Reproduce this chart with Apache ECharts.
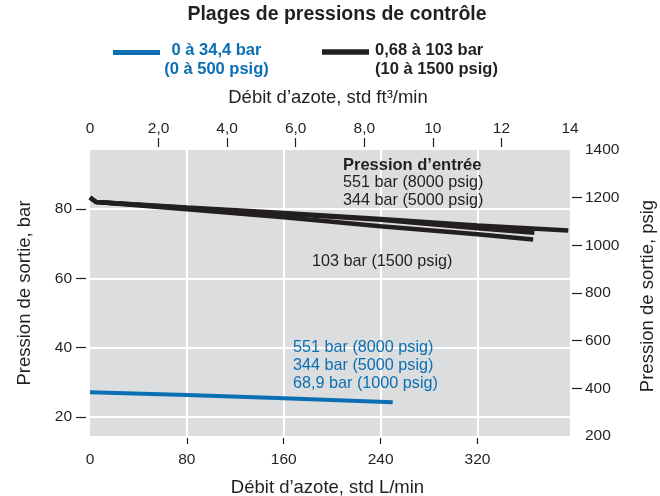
<!DOCTYPE html>
<html><head><meta charset="utf-8">
<script src="https://cdn.jsdelivr.net/npm/echarts@6/dist/echarts.min.js"></script>
<style>html,body{margin:0;padding:0;background:#fff}#c{width:660px;height:496px}</style>
</head><body><div id="c"></div>
<script>
const FONT = '"Liberation Sans", Arial, Helvetica, sans-serif';
const BLUE = '#0b6fb3';
const DARK = '#231f20';

// ---- data ----
const flowBottomTicks = [0, 80, 160, 240, 320];          // std L/min
const flowTopTicks = [0, 2, 4, 6, 8, 10, 12, 14];         // std ft3/min
const flowTopTickLabels = ['0', '2,0', '4,0', '6,0', '8,0', '10', '12', '14'];
const barTicks = [20, 40, 60, 80];
const psigTicks = [200, 400, 600, 800, 1000, 1200, 1400];

// 0,68 à 103 bar range, inlet pressures
const inlet551Flow = [0, 5, 80, 160, 240, 320, 395];
const inlet551Out  = [83.3, 82.0, 80.4, 78.8, 77.1, 75.2, 73.8];
const inlet344Flow = [0, 5, 80, 160, 240, 320, 367];
const inlet344Out  = [83.3, 82.0, 80.3, 78.6, 76.9, 74.4, 73.1];
const inlet103Flow = [0, 5, 80, 160, 240, 320, 366];
const inlet103Out  = [83.3, 82.0, 79.9, 77.6, 75.0, 72.7, 71.2];
// 0 à 34,4 bar range (551 / 344 / 68,9 bar inlet, overlapping)
const lowFlow = [0, 80, 160, 250];
const lowOut  = [27.1, 26.3, 25.4, 24.2];

const zip = (a, b) => a.map((v, i) => [v, b[i]]);
const tickStyle = { color: DARK, width: 1.2 };
const lab = { color: DARK, fontSize: 15.5, fontFamily: FONT };
const noLine = { show: false, onZero: false };

const chart = echarts.init(document.getElementById('c'), null, { renderer: 'canvas' });

function txt(x, y, text, opt) {
  opt = opt || {};
  return {
    type: 'text', x: x, y: y, rotation: opt.rotation || 0, z: 100,
    style: {
      text: text, fill: opt.color || DARK,
      fontSize: opt.size || 16, fontWeight: opt.bold ? 'bold' : 'normal',
      fontFamily: FONT, align: opt.align || 'left', verticalAlign: 'middle'
    }
  };
}

const option = {
  animation: false,
  backgroundColor: '#ffffff',
  grid: { left: 90, right: 90, top: 150, bottom: 60, show: true,
          backgroundColor: '#dcdddf', borderWidth: 0, containLabel: false },
  xAxis: [
    { type: 'value', position: 'bottom', min: 0, max: 396.4, interval: 80, offset: 2,
      axisLine: noLine,
      axisTick: { show: true, length: 6, lineStyle: tickStyle, customValues: [80, 160, 240, 320] },
      axisLabel: Object.assign({ margin: 14, customValues: flowBottomTicks }, lab),
      splitLine: { show: true, lineStyle: { color: '#ffffff', width: 2 } } },
    { type: 'value', position: 'top', min: 0, max: 14, interval: 2, offset: 3,
      axisLine: noLine,
      axisTick: { show: true, length: 9, lineStyle: tickStyle, customValues: [2, 4, 6, 8, 10, 12] },
      axisLabel: Object.assign({ margin: 10, customValues: flowTopTicks,
        formatter: v => flowTopTickLabels[flowTopTicks.indexOf(Math.round(v))] }, lab),
      splitLine: { show: false } }
  ],
  yAxis: [
    { type: 'value', position: 'left', min: 14.5, max: 97, offset: 4,
      axisLine: noLine,
      axisTick: { show: true, length: 10, lineStyle: tickStyle, customValues: barTicks },
      axisLabel: Object.assign({ margin: 14, customValues: barTicks }, lab),
      splitLine: { show: true, lineStyle: { color: '#ffffff', width: 2 } } },
    { type: 'value', position: 'right', min: 200, max: 1400, offset: 2,
      axisLine: noLine,
      axisTick: { show: true, length: 10, lineStyle: tickStyle, customValues: psigTicks.slice(1, -1) },
      axisLabel: Object.assign({ margin: 13, customValues: psigTicks, formatter: v => String(v) }, lab),
      splitLine: { show: false } }
  ],
  series: [
    { type: 'line', name: '103 bar', xAxisIndex: 0, yAxisIndex: 0, data: zip(inlet103Flow, inlet103Out),
      showSymbol: false, symbol: 'none', lineStyle: { color: DARK, width: 4.5 }, z: 5 },
    { type: 'line', name: '344 bar', xAxisIndex: 0, yAxisIndex: 0, data: zip(inlet344Flow, inlet344Out),
      showSymbol: false, symbol: 'none', lineStyle: { color: DARK, width: 4.5 }, z: 5 },
    { type: 'line', name: '551 bar', xAxisIndex: 0, yAxisIndex: 0, data: zip(inlet551Flow, inlet551Out),
      showSymbol: false, symbol: 'none', lineStyle: { color: DARK, width: 4.5 }, z: 5 },
    { type: 'line', name: '0 à 34,4 bar', xAxisIndex: 0, yAxisIndex: 0, data: zip(lowFlow, lowOut),
      showSymbol: false, symbol: 'none', lineStyle: { color: BLUE, width: 4 }, z: 5 }
  ],
  graphic: [
    txt(337, 15, 'Plages de pressions de contrôle', { size: 19.5, bold: true, align: 'center' }),
    { type: 'line', shape: { x1: 113, y1: 52.5, x2: 160, y2: 52.5 }, style: { stroke: BLUE, lineWidth: 5 } },
    txt(216.5, 50, '0 à 34,4 bar', { size: 16.5, bold: true, color: BLUE, align: 'center' }),
    txt(216.5, 69, '(0 à 500 psig)', { size: 16.5, bold: true, color: BLUE, align: 'center' }),
    { type: 'line', shape: { x1: 322, y1: 52, x2: 369, y2: 52 }, style: { stroke: DARK, lineWidth: 5.5 } },
    txt(375, 50, '0,68 à 103 bar', { size: 16.5, bold: true }),
    txt(375, 69, '(10 à 1500 psig)', { size: 16.5, bold: true }),
    txt(328, 98, 'Débit d’azote, std ft³/min', { size: 18.5, align: 'center' }),
    txt(327.5, 488, 'Débit d’azote, std L/min', { size: 18.5, align: 'center' }),
    txt(25, 293, 'Pression de sortie, bar', { size: 18.5, align: 'center', rotation: Math.PI / 2 }),
    txt(648, 296, 'Pression de sortie, psig', { size: 18.5, align: 'center', rotation: Math.PI / 2 }),
    txt(343, 165, 'Pression d’entrée', { size: 16.5, bold: true }),
    txt(343, 183, '551 bar (8000 psig)', { size: 16.2 }),
    txt(343, 201, '344 bar (5000 psig)', { size: 16.2 }),
    txt(312, 262, '103 bar (1500 psig)', { size: 16.2 }),
    txt(293, 348, '551 bar (8000 psig)', { size: 16.2, color: BLUE }),
    txt(293, 366, '344 bar (5000 psig)', { size: 16.2, color: BLUE }),
    txt(293, 384, '68,9 bar (1000 psig)', { size: 16.2, color: BLUE })
  ]
};
chart.setOption(option);
</script>
</body></html>
